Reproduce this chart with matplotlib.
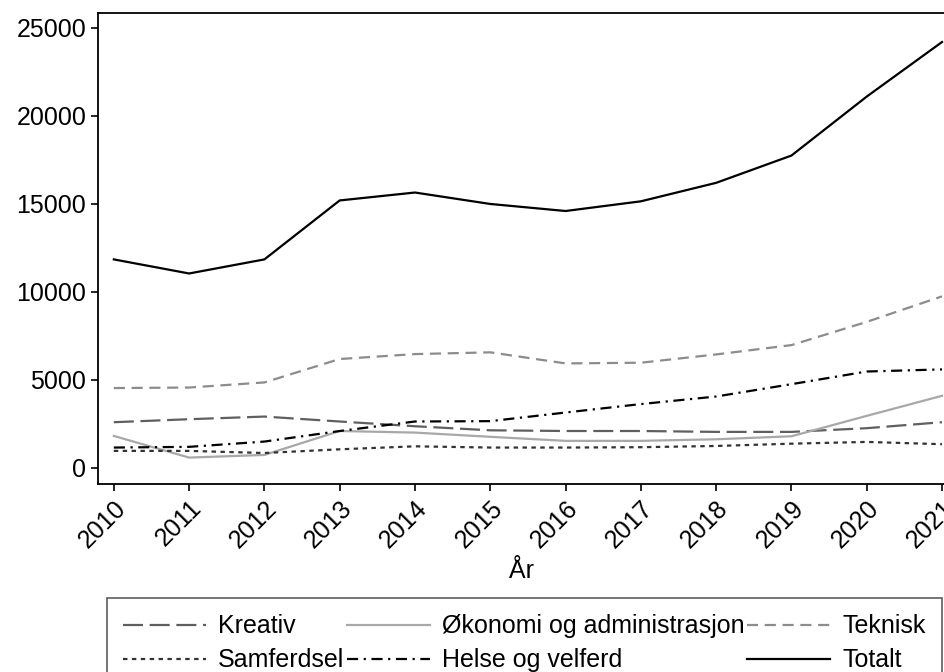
import matplotlib
matplotlib.use("Agg")
import matplotlib.pyplot as plt

plt.rcParams["font.family"] = ["Liberation Sans", "DejaVu Sans"]

years = list(range(2010, 2022))
kreativ = [2600, 2770, 2920, 2640, 2370, 2140, 2100, 2100, 2050, 2050, 2260, 2600]
okonomi = [1820, 590, 740, 2100, 2010, 1770, 1540, 1540, 1630, 1800, 2960, 4100]
teknisk = [4540, 4570, 4860, 6190, 6470, 6570, 5940, 5980, 6450, 6980, 8300, 9750]
samferdsel = [970, 970, 850, 1060, 1230, 1160, 1160, 1180, 1250, 1380, 1480, 1350]
helse = [1160, 1200, 1500, 2100, 2640, 2660, 3150, 3630, 4060, 4760, 5480, 5600]
totalt = [11850, 11050, 11850, 15200, 15650, 15000, 14600, 15150, 16200, 17750, 21100, 24200]

fig = plt.figure(figsize=(9.45, 6.72), dpi=100)
ax = fig.add_axes([98 / 945, 1 - 484 / 672, 847 / 945, 471 / 672])

lw = 1.6
h_kre, = ax.plot(years, kreativ, color="#5f5f5f", lw=lw, linestyle=(0, (9, 3)), label="Kreativ")
h_oko, = ax.plot(years, okonomi, color="#a8a8a8", lw=lw, linestyle="-", label="Økonomi og administrasjon")
h_tek, = ax.plot(years, teknisk, color="#8c8c8c", lw=lw, linestyle=(0, (5, 3)), label="Teknisk")
h_sam, = ax.plot(years, samferdsel, color="#333333", lw=lw, linestyle=(0, (2, 2)), label="Samferdsel")
h_hel, = ax.plot(years, helse, color="#000000", lw=lw, linestyle=(0, (5, 2.5, 1, 2.5)), label="Helse og velferd")
h_tot, = ax.plot(years, totalt, color="#000000", lw=lw, linestyle="-", label="Totalt")

ax.set_xlim(2009.79, 2021.04)
ax.set_ylim(-911, 25850)
ax.set_xticks(years)
ax.set_xticklabels([str(y) for y in years], rotation=45, ha="right", rotation_mode="anchor")
ax.set_yticks([0, 5000, 10000, 15000, 20000, 25000])
ax.tick_params(axis="both", labelsize=18, length=5, width=1.2, direction="out")
for s in ax.spines.values():
    s.set_linewidth(1.3)
ax.set_xlabel("År", fontsize=18, labelpad=5)

# legend is filled column by column, so order handles to read row-wise
handles = [h_kre, h_sam, h_oko, h_hel, h_tek, h_tot]
leg = fig.legend(handles=handles, labels=[h.get_label() for h in handles],
                 loc="upper left", bbox_to_anchor=(107 / 945, 1 - 598 / 672), ncol=3,
                 fontsize=18, handlelength=3.3, handletextpad=0.5, columnspacing=0.1,
                 frameon=True, fancybox=False, edgecolor="#333333", borderpad=0.65,
                 labelspacing=0.4, borderaxespad=0)
leg.get_frame().set_linewidth(1.2)

fig.savefig("out.png", dpi=100)
